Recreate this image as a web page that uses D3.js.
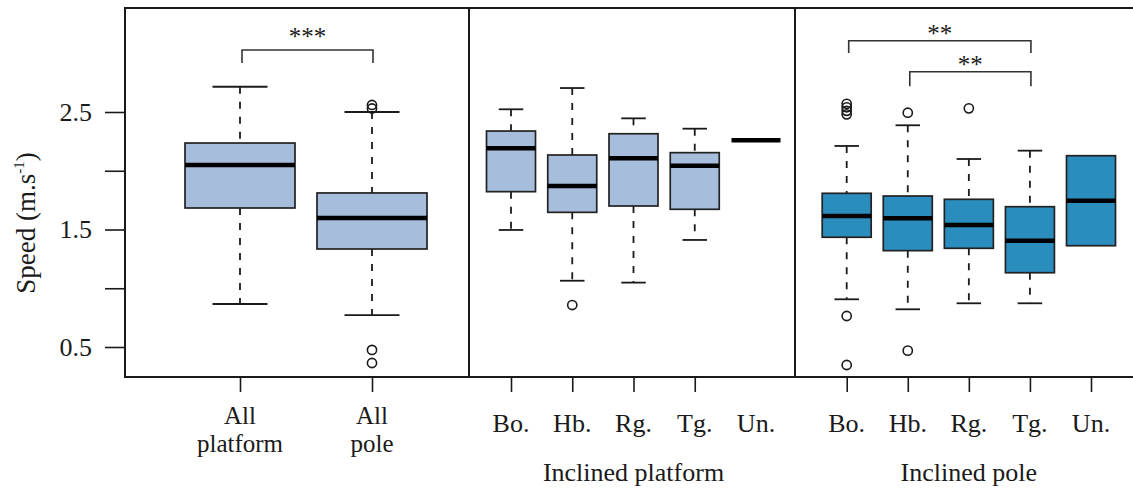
<!DOCTYPE html>
<html><head><meta charset="utf-8">
<script src="https://cdn.jsdelivr.net/npm/d3@7"></script>
<style>body{margin:0;background:#fff}svg text{font-family:"Liberation Serif","Times New Roman",serif;fill:#1a1a1a}</style>
</head><body><svg id="c" width="1133" height="489"></svg>
<script>
// ---------- data ----------
const yTicks = [0.5, 1.0, 1.5, 2.0, 2.5];
const yTickLabels = ["0.5", "", "1.5", "", "2.5"];
const yTitle = "Speed (m.s";
const yTitleSup = "-1";

const allCats = ["All\nplatform", "All\npole"];
const allQ1 = [1.683, 1.334];
const allMed = [2.049, 1.598];
const allQ3 = [2.236, 1.811];
const allLo = [0.866, 0.772];
const allHi = [2.715, 2.500];
const allOut = [[], [2.56, 2.53, 0.475, 0.364]];

const platCats = ["Bo.", "Hb.", "Rg.", "Tg.", "Un."];
const platQ1 = [1.822, 1.646, 1.700, 1.672, 2.26];
const platMed = [2.191, 1.870, 2.106, 2.043, 2.26];
const platQ3 = [2.338, 2.134, 2.315, 2.154, 2.26];
const platLo = [1.496, 1.064, 1.048, 1.411, 2.26];
const platHi = [2.523, 2.704, 2.446, 2.358, 2.26];
const platOut = [[], [0.857], [], [], []];
const platTicks = ["Bo.", "Hb.", "Rg.", "Tg."];

const poleCats = ["Bo.", "Hb.", "Rg.", "Tg.", "Un."];
const poleQ1 = [1.434, 1.320, 1.340, 1.132, 1.362];
const poleMed = [1.615, 1.595, 1.538, 1.405, 1.745];
const poleQ3 = [1.808, 1.785, 1.757, 1.694, 2.128];
const poleLo = [0.906, 0.821, 0.872, 0.872, 1.362];
const poleHi = [2.211, 2.387, 2.100, 2.171, 2.128];
const poleOut = [[2.57, 2.54, 2.51, 2.48, 0.764, 0.347], [2.494, 0.469], [2.531], [], []];

const groupTitles = ["", "Inclined platform", "Inclined pole"];

// significance brackets
const sigPanel = [0, 2, 2];
const sigFrom = [0, 0, 1];
const sigTo = [1, 3, 3];
const sigBar = [3.028, 3.107, 2.843];
const sigLeg = [2.917, 3.002, 2.720];
const sigLabel = ["***", "**", "**"];

// ---------- layout ----------
const svg = d3.select("#c");
const plotTop = 8, plotBottom = 377;
const y = d3.scaleLinear().domain([0.5, 2.5]).range([347, 112]);
const light = "#a6bddb", dark = "#2b8cbe";

const panels = [
  {cats:allCats, q1:allQ1, med:allMed, q3:allQ3, lo:allLo, hi:allHi, out:allOut,
   range:[240, 372], bw:110, fill:light, ticks:allCats},
  {cats:platCats, q1:platQ1, med:platMed, q3:platQ3, lo:platLo, hi:platHi, out:platOut,
   range:[511, 756], bw:49, fill:light, ticks:platTicks},
  {cats:poleCats, q1:poleQ1, med:poleMed, q3:poleQ3, lo:poleLo, hi:poleHi, out:poleOut,
   range:[846.7, 1091], bw:49, fill:dark, ticks:poleCats}
];
panels.forEach(p => { p.x = d3.scalePoint().domain(p.cats).range(p.range); });

// frame
svg.append("rect").attr("x",125).attr("y",plotTop).attr("width",1136-125).attr("height",plotBottom-plotTop)
  .attr("fill","none").attr("stroke","#1a1a1a").attr("stroke-width",2);
[469, 795].forEach(xx => svg.append("line").attr("x1",xx).attr("x2",xx).attr("y1",plotTop).attr("y2",plotBottom)
  .attr("stroke","#1a1a1a").attr("stroke-width",2));

// y axis
const yAxis = d3.axisLeft(y).tickValues(yTicks).tickSize(20).tickPadding(13)
  .tickFormat((d,i) => yTickLabels[i]);
const ga = svg.append("g").attr("transform","translate(125,0)").call(yAxis);
ga.select(".domain").remove();
ga.selectAll(".tick line").attr("stroke","#1a1a1a").attr("stroke-width",1.6);
ga.selectAll(".tick text").style("font-size","26px").style("font-family","Liberation Serif, serif").attr("fill","#1a1a1a");

// y title
const yt = svg.append("text").attr("transform","translate(35,223) rotate(-90)")
  .attr("text-anchor","middle").style("font-size","27px");
yt.append("tspan").text(yTitle);
yt.append("tspan").attr("dy",-11).style("font-size","15px").text(yTitleSup);
yt.append("tspan").attr("dy",11).text(")");

// boxes
panels.forEach((p, pi) => {
  const g = svg.append("g");
  const xa = d3.axisBottom(p.x).tickValues(p.ticks).tickSize(15).tickFormat("");
  const gx = svg.append("g").attr("transform",`translate(0,${plotBottom})`).call(xa);
  gx.select(".domain").remove();
  gx.selectAll(".tick line").attr("stroke","#1a1a1a").attr("stroke-width",1.6);
  p.cats.forEach(c => {
    const lines = c.split("\n");
    if (lines.length > 1) {
      lines.forEach((l, li) => svg.append("text").attr("text-anchor","middle").style("font-size","25px")
        .attr("x", p.x(c)).attr("y", 424 + li*28).text(l));
    } else {
      svg.append("text").attr("text-anchor","middle").style("font-size","26px")
        .attr("x", p.x(c)).attr("y", 432).text(c);
    }
  });
  if (groupTitles[pi]) {
    svg.append("text").attr("text-anchor","middle").style("font-size","26px")
      .attr("x", (p.x(p.cats[0]) + p.x(p.cats[p.cats.length-1]))/2).attr("y", 481).text(groupTitles[pi]);
  }
  p.cats.forEach((c, i) => {
    const cx = p.x(c), hw = p.bw/2, cw = p.bw/4;
    const dash = "7,8";
    if (p.hi[i] > p.q3[i]) {
      g.append("line").attr("x1",cx).attr("x2",cx).attr("y1",y(p.hi[i])).attr("y2",y(p.q3[i]))
        .attr("stroke","#1a1a1a").attr("stroke-width",1.8).attr("stroke-dasharray",dash);
      g.append("line").attr("x1",cx-cw).attr("x2",cx+cw).attr("y1",y(p.hi[i])).attr("y2",y(p.hi[i]))
        .attr("stroke","#1a1a1a").attr("stroke-width",1.8);
    }
    if (p.lo[i] < p.q1[i]) {
      g.append("line").attr("x1",cx).attr("x2",cx).attr("y1",y(p.q1[i])).attr("y2",y(p.lo[i]))
        .attr("stroke","#1a1a1a").attr("stroke-width",1.8).attr("stroke-dasharray",dash);
      g.append("line").attr("x1",cx-cw).attr("x2",cx+cw).attr("y1",y(p.lo[i])).attr("y2",y(p.lo[i]))
        .attr("stroke","#1a1a1a").attr("stroke-width",1.8);
    }
    if (p.q3[i] > p.q1[i]) {
      g.append("rect").attr("x",cx-hw).attr("width",p.bw).attr("y",y(p.q3[i]))
        .attr("height",y(p.q1[i]) - y(p.q3[i])).attr("fill",p.fill)
        .attr("stroke","#222").attr("stroke-width",1.7);
    }
    g.append("line").attr("x1",cx-hw).attr("x2",cx+hw).attr("y1",y(p.med[i])).attr("y2",y(p.med[i]))
      .attr("stroke","#000").attr("stroke-width",4.5);
    p.out[i].forEach(v => {
      g.append("circle").attr("cx",cx).attr("cy",y(v)).attr("r",4.6)
        .attr("fill","none").attr("stroke","#1a1a1a").attr("stroke-width",1.6);
    });
  });
});

// significance brackets
sigLabel.forEach((lab, k) => {
  const p = panels[sigPanel[k]];
  const xa = p.x(p.cats[sigFrom[k]]) + 2, xb = p.x(p.cats[sigTo[k]]) + 1;
  const yb = y(sigBar[k]), yl = y(sigLeg[k]);
  svg.append("path").attr("d",`M${xa},${yl}V${yb}H${xb}V${yl}`)
    .attr("fill","none").attr("stroke","#333").attr("stroke-width",1.6);
  svg.append("text").attr("text-anchor","middle").style("font-size","25px").attr("fill","#333")
    .attr("x",(xa+xb)/2).attr("y", k === 0 ? yb - 5 : yb + 1).text(lab);
});
</script></body></html>
